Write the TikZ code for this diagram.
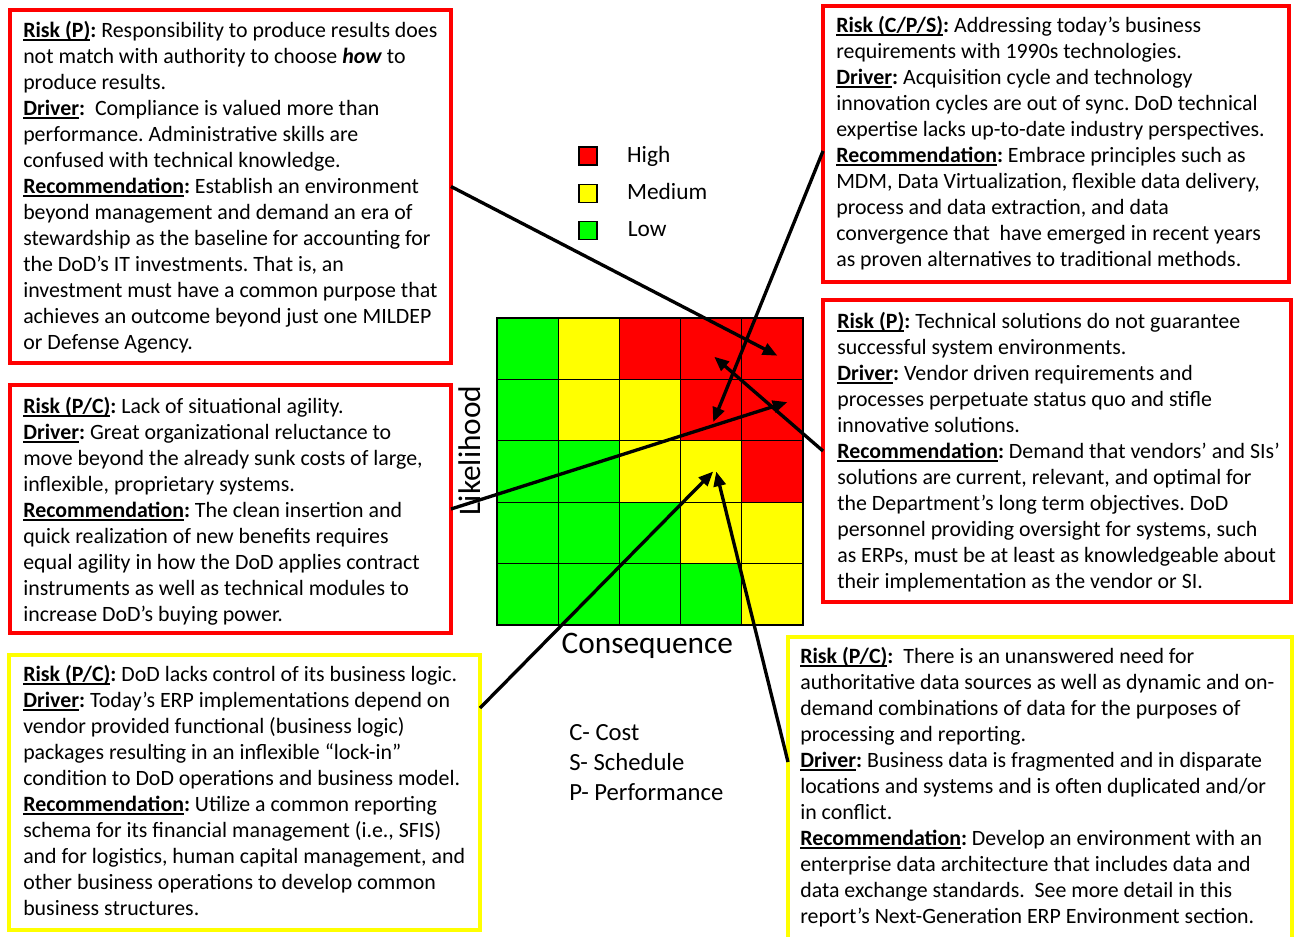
\documentclass[tikz,border=0pt]{standalone}
\usepackage{fontspec}
\setmainfont{Carlito}
\usetikzlibrary{positioning,arrows.meta}
\definecolor{riskR}{HTML}{FF0000}
\definecolor{riskY}{HTML}{FFFF00}
\definecolor{riskG}{HTML}{00FF00}
\frenchspacing
\newcommand{\uln}[1]{\leavevmode\setbox0\hbox{#1}\rlap{\vrule height -1.2pt depth 2.6pt width \wd0}\box0}
\newcommand{\lbl}[1]{\textbf{\uln{#1}:}}
\newcommand{\boxfont}{\fontsize{16.4}{19.5}\selectfont}

\begin{document}
\begin{tikzpicture}[x=0.75pt, y=-0.75pt, >={Triangle[length=11pt,width=9pt]},
  riskbox/.style={draw=#1, line width=3pt, outer sep=0pt, inner sep=0pt, anchor=north west},
  boxtext/.style={anchor=north west, inner sep=0pt, align=left, font=\boxfont},
  cell/.style={draw=black, line width=1pt, inner sep=0pt, outer sep=0pt, minimum width=45.9pt, minimum height=46.05pt},
  legbox/.style={draw=black, line width=0.8pt, minimum size=13.5pt, inner sep=0pt},
  legtext/.style={inner sep=0pt, font=\fontsize{17.5}{21}\selectfont, text height=12pt, text depth=3pt},
  link/.style={->, line width=2.5pt}]
\useasboundingbox (0,0) rectangle (1295,936);

% Risk matrix
\foreach [count=\r] \row in {{G,Y,R,R,R},{G,Y,Y,R,R},{G,G,Y,Y,R},{G,G,G,Y,Y},{G,G,G,G,Y}}
  \foreach [count=\c] \k in \row
    \node[cell, fill=risk\k] (c\r\c) at ({497+61.2*(\c-0.5)},{318+61.4*(\r-0.5)}) {};

\node[font=\fontsize{23.5}{28}\selectfont, inner sep=0pt, rotate=90, anchor=south] (ylab) at ([shift={(-16,-21)}]c31.west) {Likelihood};
\node[font=\fontsize{23.5}{28}\selectfont, inner sep=0pt, below=6pt of c53, xshift=-2pt] (xlab) {Consequence};

% Legend
\node[legbox, fill=riskR] (lgH) at (588,156) {};
\node[legbox, fill=riskY, below=13.5pt of lgH] (lgM) {};
\node[legbox, fill=riskG, below=13.5pt of lgM] (lgL) {};
\node[legtext, right=22pt of lgH] (txH) {High};
\node[legtext, right=22pt of lgM] (txM) {Medium};
\node[legtext, right=22.5pt of lgL] (txL) {Low};

\node[boxtext, font=\fontsize{18.5}{22.5}\selectfont] (note) at (569,724) {C- Cost\\S- Schedule\\P- Performance};

% Risk boxes
\node[riskbox=riskR, minimum width=330.75pt, minimum height=264.75pt] (b1) at (10,10) {};
\node[boxtext] (t1) at ([shift={(13,11)}]b1.north west) {\lbl{Risk (P)} Responsibility to produce results does\\
not match with authority to choose \textbf{\textit{how}} to\\
produce results.\\
\lbl{Driver}\ \ Compliance is valued more than\\
performance. Administrative skills are\\
confused with technical knowledge.\\
\lbl{Recommendation} Establish an environment\\
beyond management and demand an era of\\
stewardship as the baseline for accounting for\\
the DoD’s IT investments. That is, an\\
investment must have a common purpose that\\
achieves an outcome beyond just one MILDEP\\
or Defense Agency.};

\node[riskbox=riskR, minimum width=349.5pt, minimum height=207pt] (b2) at (823,6) {};
\node[boxtext] (t2) at ([shift={(13,10)}]b2.north west) {\lbl{Risk (C/P/S)} Addressing today’s business\\
requirements with 1990s technologies.\\
\lbl{Driver} Acquisition cycle and technology\\
innovation cycles are out of sync. DoD technical\\
expertise lacks up-to-date industry perspectives.\\
\lbl{Recommendation} Embrace principles such as\\
MDM, Data Virtualization, flexible data delivery,\\
process and data extraction, and data\\
convergence that\ \ have emerged in recent years\\
as proven alternatives to traditional methods.};

\node[riskbox=riskR, minimum width=351pt, minimum height=226.5pt] (b3) at (823,300) {};
\node[boxtext] (t3) at ([shift={(14,12)}]b3.north west) {\lbl{Risk (P)} Technical solutions do not guarantee\\
successful system environments.\\
\lbl{Driver} Vendor driven requirements and\\
processes perpetuate status quo and stifle\\
innovative solutions.\\
\lbl{Recommendation} Demand that vendors’ and SIs’\\
solutions are current, relevant, and optimal for\\
the Department’s long term objectives. DoD\\
personnel providing oversight for systems, such\\
as ERPs, must be at least as knowledgeable about\\
their implementation as the vendor or SI.};

\node[riskbox=riskR, minimum width=330.75pt, minimum height=186pt] (b4) at (10,385) {};
\node[boxtext] (t4) at ([shift={(13,12)}]b4.north west) {\lbl{Risk (P/C)} Lack of situational agility.\\
\lbl{Driver} Great organizational reluctance to\\
move beyond the already sunk costs of large,\\
inflexible, proprietary systems.\\
\lbl{Recommendation} The clean insertion and\\
quick realization of new benefits requires\\
equal agility in how the DoD applies contract\\
instruments as well as technical modules to\\
increase DoD’s buying power.};

\node[riskbox=riskY, minimum width=353.25pt, minimum height=206.25pt] (b5) at (9,655) {};
\node[boxtext] (t5) at ([shift={(14,10)}]b5.north west) {\lbl{Risk (P/C)} DoD lacks control of its business logic.\\
\lbl{Driver} Today’s ERP implementations depend on\\
vendor provided functional (business logic)\\
packages resulting in an inflexible “lock-in”\\
condition to DoD operations and business model.\\
\lbl{Recommendation} Utilize a common reporting\\
schema for its financial management (i.e., SFIS)\\
and for logistics, human capital management, and\\
other business operations to develop common\\
business structures.};

\node[riskbox=riskY, minimum width=378pt, minimum height=234.75pt] (b6) at (788,637) {};
\node[boxtext] (t6) at ([shift={(12,10)}]b6.north west) {\lbl{Risk (P/C)}\ \ There is an unanswered need for\\
authoritative data sources as well as dynamic and on-\\
demand combinations of data for the purposes of\\
processing and reporting.\\
\lbl{Driver} Business data is fragmented and in disparate\\
locations and systems and is often duplicated and/or\\
in conflict.\\
\lbl{Recommendation} Develop an environment with an\\
enterprise data architecture that includes data and\\
data exchange standards.\ \ See more detail in this\\
report’s Next-Generation ERP Environment section.};

% Arrows into the matrix
\draw[link] (b1.east) -- ([shift={(5,7)}]c15.center);
\draw[link] ([shift={(0,7)}]b2.west) -- ([shift={(2,12)}]c24.center);
\draw[link] (b3.west) -- ([shift={(3,8)}]c14.center);
\draw[link] (b4.east) -- ([shift={(15,-8)}]c25.center);
\draw[link] ([shift={(0,53)}]b5.north east) -- ([shift={(2,0)}]c34.center);
\draw[link] ([shift={(0,125)}]b6.north west) -- ([shift={(5,0)}]c34.center);
\end{tikzpicture}
\end{document}
